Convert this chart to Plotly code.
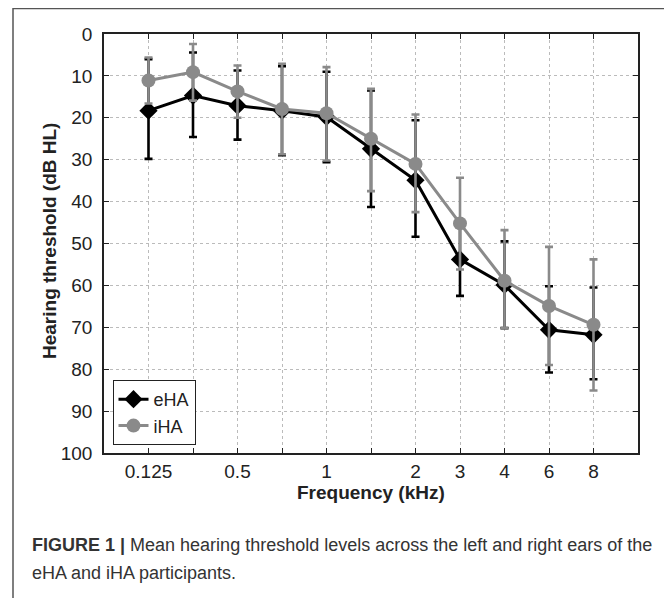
import plotly.graph_objects as go

# ---- data ----
freqs = ["0.125", "0.25", "0.5", "0.75", "1", "1.5", "2", "3", "4", "6", "8"]
tick_text = ["0.125", "", "0.5", "", "1", "", "2", "3", "4", "6", "8"]
y_ticks = [0, 10, 20, 30, 40, 50, 60, 70, 80, 90, 100]

eha_mean = [18.3, 14.7, 17.1, 18.3, 19.8, 27.4, 34.9, 53.8, 59.9, 70.6, 71.8]
eha_top = [6.0, 4.4, 8.7, 7.7, 9.0, 13.5, 20.6, 45.1, 49.5, 60.2, 60.5]
eha_bottom = [29.8, 24.6, 25.2, 28.9, 30.6, 41.3, 48.4, 62.5, 70.2, 80.8, 82.4]

iha_mean = [11.1, 9.1, 13.7, 17.9, 18.9, 25.0, 31.0, 45.2, 58.9, 64.9, 69.4]
iha_top = [5.6, 2.4, 7.5, 7.1, 7.9, 13.1, 19.2, 34.3, 46.8, 50.8, 53.8]
iha_bottom = [16.6, 15.9, 20.0, 28.7, 30.2, 37.5, 42.5, 56.2, 70.2, 79.0, 85.1]

FONT = "Arial, Liberation Sans, sans-serif"
BLACK = "#000000"
GRAY = "#8a8a8a"

def err(mean, top, bottom, color):
    return dict(
        type="data", symmetric=False,
        array=[b - m for m, b in zip(mean, bottom)],
        arrayminus=[m - t for m, t in zip(mean, top)],
        color=color, thickness=2.6, width=4,
    )

fig = go.Figure()
fig.add_trace(go.Scatter(
    x=freqs, y=eha_mean, name="eHA", mode="lines+markers",
    line=dict(color=BLACK, width=3),
    marker=dict(symbol="diamond", size=14, color=BLACK),
    error_y=err(eha_mean, eha_top, eha_bottom, BLACK),
))
fig.add_trace(go.Scatter(
    x=freqs, y=iha_mean, name="iHA", mode="lines+markers",
    line=dict(color=GRAY, width=3),
    marker=dict(symbol="circle", size=14, color=GRAY),
    error_y=err(iha_mean, iha_top, iha_bottom, GRAY),
))

# page has an 8px body margin; work in page pixel coordinates
OFF = 8
W, H = 672 - OFF, 598 - OFF
plot_left, plot_right, plot_top, plot_bottom = 104, 638, 34, 453
L = plot_left - OFF
T = plot_top - OFF
R = W - (plot_right - OFF)
B = H - (plot_bottom - OFF)
pw, ph = W - L - R, H - T - B

def px(x):
    return (x - plot_left) / pw

def py(y):
    return (plot_bottom - y) / ph

fig.update_layout(
    width=W, height=H,
    margin=dict(l=L, r=R, t=T, b=B),
    paper_bgcolor="white", plot_bgcolor="white",
    font=dict(family=FONT, size=19, color="#222"),
    showlegend=True,
    legend=dict(
        x=px(112.5), y=py(445), xanchor="left", yanchor="bottom",
        bordercolor="#222", borderwidth=1, bgcolor="white",
        font=dict(size=18, color="#222"), tracegroupgap=0,
    ),
)

fig.update_xaxes(
    type="category", categoryorder="array", categoryarray=freqs,
    range=[-1, 11],
    tickmode="array", tickvals=freqs, ticktext=tick_text,
    ticks="inside", ticklen=5, tickwidth=1, tickcolor="#222",
    showline=True, linecolor="#222", linewidth=1.5, mirror="ticks",
    showgrid=True, gridcolor="#bbbbbb", griddash="dot", gridwidth=1,
    zeroline=False, tickfont=dict(size=19, color="#222"),
    ticklabelstandoff=0,
)
fig.update_yaxes(
    range=[100, 0], tickmode="array", tickvals=y_ticks,
    ticks="inside", ticklen=5, tickwidth=1, tickcolor="#222",
    showline=True, linecolor="#222", linewidth=1.5, mirror="ticks",
    showgrid=True, gridcolor="#bbbbbb", griddash="dot", gridwidth=1,
    zeroline=False, tickfont=dict(size=19, color="#222"),
    ticklabelstandoff=6,
)

# axis titles
fig.add_annotation(
    text="<b>Frequency (kHz)</b>", xref="paper", yref="paper",
    x=px(371), y=py(492), xanchor="center", yanchor="middle",
    showarrow=False, font=dict(size=19, color="#222", family=FONT),
)
fig.add_annotation(
    text="<b>Hearing threshold (dB HL)</b>", xref="paper", yref="paper",
    x=px(49), y=py(241), xanchor="center", yanchor="middle", textangle=-90,
    showarrow=False, font=dict(size=19, color="#222", family=FONT),
)

# caption
fig.add_annotation(
    text="<b>FIGURE 1 |</b> Mean hearing threshold levels across the left and right ears of the",
    xref="paper", yref="paper", x=px(30), y=py(545), xanchor="left", yanchor="middle",
    showarrow=False, font=dict(size=18, color="#333", family=FONT),
)
fig.add_annotation(
    text="eHA and iHA participants.",
    xref="paper", yref="paper", x=px(30), y=py(573), xanchor="left", yanchor="middle",
    showarrow=False, font=dict(size=18, color="#333", family=FONT),
)

# figure frame
fig.add_shape(
    type="rect", xref="paper", yref="paper",
    x0=px(13), x1=px(670), y0=py(620), y1=py(8.5),
    line=dict(color="#555", width=1.5), fillcolor="rgba(0,0,0,0)", layer="below",
)

fig.write_html("out.html")
